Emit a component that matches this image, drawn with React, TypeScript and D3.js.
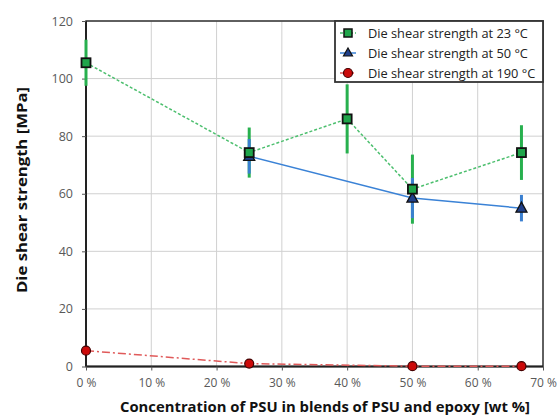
import React, { useEffect, useRef } from "react";
import * as d3 from "d3";

const concentrations = [0, 25, 40, 50, 66.7];
const strength23 = [105.5, 74.3, 86, 61.6, 74.3];
const error23 = [8, 8.7, 12, 12, 9.5];
const conc50 = [25, 50, 66.7];
const strength50 = [73, 58.5, 55];
const error50 = [6, 7, 4.6];
const conc190 = [0, 25, 50, 66.7];
const strength190 = [5.5, 1, 0.1, 0.1];
const xTicks = [0, 10, 20, 30, 40, 50, 60, 70];
const yTicks = [0, 20, 40, 60, 80, 100, 120];
const legendLabels = [
  "Die shear strength at 23 °C",
  "Die shear strength at 50 °C",
  "Die shear strength at 190 °C",
];

const FONT = "'Open Sans', sans-serif";

const App = () => {
  const ref = useRef<SVGSVGElement>(null);

  useEffect(() => {
    document.body.style.margin = "0";
    const svg = d3.select(ref.current);
    svg.selectAll("*").remove();

    const left = 86, right = 543, top = 21, bottom = 366.5;
    const x = d3.scaleLinear().domain([0, 70]).range([left, right]);
    const y = d3.scaleLinear().domain([0, 120]).range([bottom, top]);

    // grid
    const grid = svg.append("g");
    xTicks.forEach(t => {
      grid.append("line")
        .attr("x1", x(t)).attr("x2", x(t))
        .attr("y1", top).attr("y2", bottom)
        .attr("stroke", "#d0d0d0").attr("stroke-width", 1);
    });
    yTicks.forEach(t => {
      grid.append("line")
        .attr("x1", left).attr("x2", right)
        .attr("y1", y(t)).attr("y2", y(t))
        .attr("stroke", "#d0d0d0").attr("stroke-width", 1);
    });

    // frame
    svg.append("rect")
      .attr("x", left).attr("y", top)
      .attr("width", right - left).attr("height", bottom - top)
      .attr("fill", "none").attr("stroke", "#333").attr("stroke-width", 1.5);

    // axes
    svg.append("line").attr("x1", left).attr("x2", right).attr("y1", bottom).attr("y2", bottom)
      .attr("stroke", "#222").attr("stroke-width", 2);
    svg.append("line").attr("x1", left).attr("x2", left).attr("y1", top).attr("y2", bottom)
      .attr("stroke", "#222").attr("stroke-width", 2);

    const yAxis = svg.append("g").attr("transform", `translate(${left},0)`)
      .call(d3.axisLeft(y).tickValues(yTicks).tickSize(4).tickPadding(9));
    yAxis.select(".domain").remove();
    yAxis.selectAll("line").attr("stroke", "#555");
    yAxis.selectAll("text").attr("font-family", FONT).attr("font-size", 12.5).attr("fill", "#595959");

    const xAxis = svg.append("g").attr("transform", `translate(0,${bottom})`)
      .call(d3.axisBottom(x).tickValues(xTicks).tickSize(4).tickPadding(8).tickFormat(d => `${d} %`));
    xAxis.select(".domain").remove();
    xAxis.selectAll("line").attr("stroke", "#555");
    xAxis.selectAll("text").attr("font-family", FONT).attr("font-size", 12).attr("fill", "#595959");

    const errorBars = (xs: number[], ys: number[], es: number[], color: string) => {
      xs.forEach((v, i) => {
        svg.append("line")
          .attr("x1", x(v)).attr("x2", x(v))
          .attr("y1", y(ys[i] - es[i])).attr("y2", y(ys[i] + es[i]))
          .attr("stroke", color).attr("stroke-width", 3);
      });
    };

    const line = (xs: number[], ys: number[]) =>
      d3.line<number>().x((d, i) => x(xs[i])).y(d => y(d))(ys);

    // 23 °C
    errorBars(concentrations, strength23, error23, "#27b04e");
    // 50 °C
    errorBars(conc50, strength50, error50, "#3a7fd0");

    svg.append("path").attr("d", line(concentrations, strength23))
      .attr("fill", "none").attr("stroke", "#4cbf6e").attr("stroke-width", 1.5)
      .attr("stroke-dasharray", "3,2");
    svg.append("path").attr("d", line(conc50, strength50))
      .attr("fill", "none").attr("stroke", "#3a82d6").attr("stroke-width", 1.5);
    svg.append("path").attr("d", line(conc190, strength190))
      .attr("fill", "none").attr("stroke", "#e05a5a").attr("stroke-width", 1.5)
      .attr("stroke-dasharray", "8,3,2,3");

    const square = (cx: number, cy: number) => {
      svg.append("rect").attr("x", cx - 4.5).attr("y", cy - 4.5).attr("width", 9).attr("height", 9)
        .attr("fill", "#1fa54a").attr("stroke", "#111").attr("stroke-width", 1.8);
    };
    const triangle = (cx: number, cy: number) => {
      svg.append("path").attr("d", `M${cx},${cy - 6}L${cx + 5.5},${cy + 4}L${cx - 5.5},${cy + 4}Z`)
        .attr("fill", "#1f3f8a").attr("stroke", "#111").attr("stroke-width", 1.3);
    };
    const circle = (cx: number, cy: number) => {
      svg.append("circle").attr("cx", cx).attr("cy", cy).attr("r", 4.5)
        .attr("fill", "#cc0a0a").attr("stroke", "#400").attr("stroke-width", 1.2);
    };

    conc50.forEach((v, i) => triangle(x(v), y(strength50[i])));
    concentrations.forEach((v, i) => square(x(v), y(strength23[i])));
    conc190.forEach((v, i) => circle(x(v), y(strength190[i])));

    // legend
    const lg = svg.append("g");
    lg.append("rect").attr("x", 335).attr("y", 21).attr("width", 208).attr("height", 61)
      .attr("fill", "#fff").attr("stroke", "#333").attr("stroke-width", 1.8);
    const rowsY = [33, 53, 73];
    const colors = ["#4cbf6e", "#3a82d6", "#e05a5a"];
    const dashes = ["3,2", null, "6,2"];
    legendLabels.forEach((label, i) => {
      const ly = rowsY[i];
      lg.append("line").attr("x1", 340).attr("x2", 356).attr("y1", ly).attr("y2", ly)
        .attr("stroke", colors[i]).attr("stroke-width", 1.5)
        .attr("stroke-dasharray", dashes[i]);
      lg.append("text").attr("x", 368).attr("y", ly + 4.5)
        .attr("font-family", FONT).attr("font-size", 12.8).attr("fill", "#222")
        .text(label);
    });
    // legend markers
    lg.append("rect").attr("x", 344).attr("y", 29).attr("width", 8).attr("height", 8)
      .attr("fill", "#1fa54a").attr("stroke", "#111").attr("stroke-width", 1.5);
    lg.append("path").attr("d", `M348,48L352.5,56L343.5,56Z`)
      .attr("fill", "#1f3f8a").attr("stroke", "#111").attr("stroke-width", 1.2);
    lg.append("circle").attr("cx", 348).attr("cy", 73).attr("r", 4.5)
      .attr("fill", "#cc0a0a").attr("stroke", "#400").attr("stroke-width", 1.2);

    // titles
    svg.append("text").attr("x", 325).attr("y", 412).attr("text-anchor", "middle")
      .attr("font-family", FONT).attr("font-weight", "bold").attr("font-size", 13.5)
      .attr("fill", "#111")
      .attr("textLength", 410).attr("lengthAdjust", "spacingAndGlyphs")
      .text("Concentration of PSU in blends of PSU and epoxy [wt %]");
    svg.append("text")
      .attr("transform", `translate(27,190) rotate(-90)`)
      .attr("text-anchor", "middle")
      .attr("font-family", FONT).attr("font-weight", "bold").attr("font-size", 13.5)
      .attr("fill", "#111")
      .attr("textLength", 206).attr("lengthAdjust", "spacingAndGlyphs")
      .text("Die shear strength [MPa]");
  }, []);

  return <svg ref={ref} width={558} height={417} style={{ display: "block", background: "#fff" }}></svg>;
};

export default App;
